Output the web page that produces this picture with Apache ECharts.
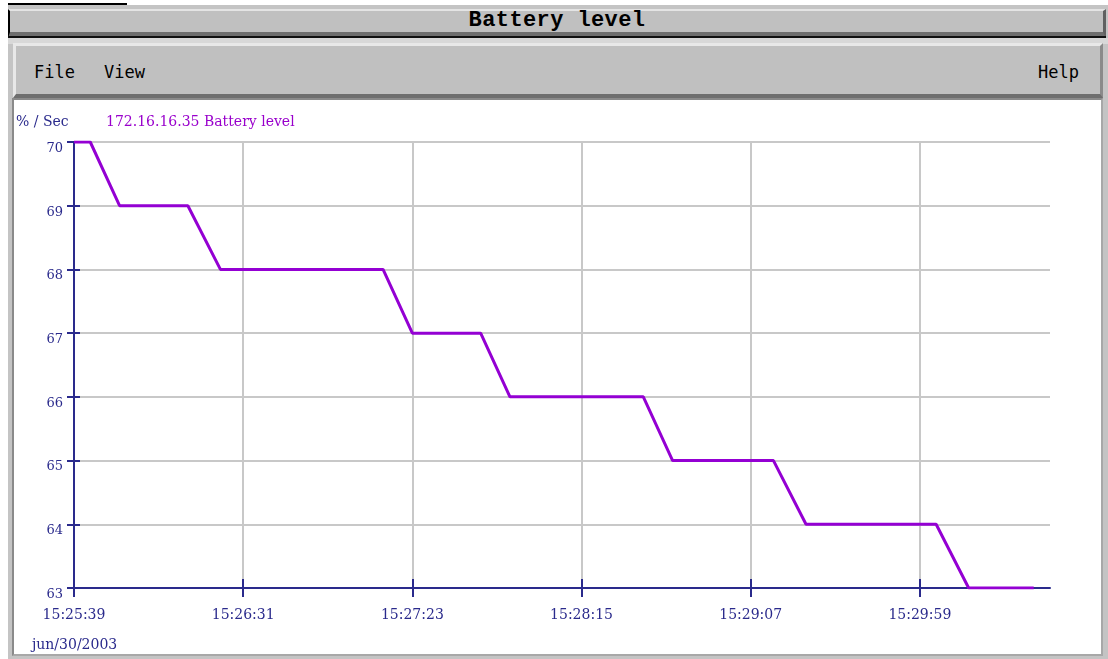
<!DOCTYPE html>
<html>
<head>
<meta charset="utf-8">
<title>Battery level</title>
<script src="https://cdn.jsdelivr.net/npm/echarts@6/dist/echarts.min.js"></script>
<style>
  html, body { margin: 0; padding: 0; background: #ffffff; width: 1108px; height: 659px; overflow: hidden; }
  .abs { position: absolute; box-sizing: border-box; }
  #topline { left: 8px; top: 3px; width: 119px; height: 2px; background: #000; }
  #frame { left: 8px; top: 5px; width: 1100px; height: 654px; background: #c4c4c4; }
  #titlebar { left: 8px; top: 9px; width: 1098px; height: 29px; background: #c0c0c0;
    border-top: 2px solid #e4e4e4; border-left: 2px solid #000; border-right: 3px solid #606060;
    border-bottom: 6px solid #6e6e6e; }
  #titleblack { left: 8px; top: 36px; width: 1098px; height: 2px; background: #111; }
  #titletext { left: 8px; top: 9px; width: 1098px; height: 22px; line-height: 24px; text-align: center;
    font-family: "Liberation Mono", monospace; font-weight: bold; font-size: 22px; letter-spacing: 0.4px; color: #000; }
  #gap { left: 8px; top: 38px; width: 1100px; height: 6px; background: #d8d8d8; }
  #menubar { left: 13px; top: 43px; width: 1090px; height: 55px; background: #c0c0c0;
    border-top: 3px solid #e8e8e8; border-left: 3px solid #e8e8e8; border-right: 3px solid #8a8a8a;
    border-bottom: 4px solid #6e6e6e; }
  .menu { top: 61px; font-family: "DejaVu Sans Mono", monospace; font-size: 17px; color: #000; line-height: 22px; }
  #panel { left: 12px; top: 98px; width: 1091px; height: 558px; background: #ffffff;
    border-top: 2px solid #8a8a8a; border-left: 2px solid #8a8a8a;
    border-right: 2px solid #a8a8a8; border-bottom: 2px solid #a8a8a8; }
  #chart { left: 0; top: 0; width: 1108px; height: 659px; }
</style>
</head>
<body>
<div class="abs" id="frame"></div>
<div class="abs" id="topline"></div>
<div class="abs" id="titlebar"></div>
<div class="abs" id="titleblack"></div>
<div class="abs" id="titletext">Battery level</div>
<div class="abs" id="gap"></div>
<div class="abs" id="menubar"></div>
<div class="abs menu" style="left:34px">File</div>
<div class="abs menu" style="left:104px">View</div>
<div class="abs menu" style="left:1038px">Help</div>
<div class="abs" id="panel"></div>
<div class="abs" id="chart"></div>

<script>
// sample times and battery level (%)
const sampleTimes = ['15:25:39', '15:25:44', '15:25:53', '15:26:14', '15:26:24', '15:27:14', '15:27:23', '15:27:44',
  '15:27:53', '15:28:34', '15:28:43', '15:29:14', '15:29:24', '15:30:04', '15:30:14', '15:30:34']
const batteryLevel = [70, 70, 69, 69, 68, 68, 67, 67, 66, 66, 65, 65, 64, 64, 63, 63]

// axis ticks (seconds after start)
const startTime = '15:25:39'
const xTickSeconds = [0, 52, 104, 156, 208, 260]
const spanSeconds = 300
const dateLabel = 'jun/30/2003'
const seriesName = '172.16.16.35 Battery level'
const unitName = '% / Sec'

const navy = '#2a2a8c'
const purple = '#9400d3'
const serif = 'DejaVu Serif'

const toSec = (s) => {
  const p = s.split(':').map(Number)
  return p[0] * 3600 + p[1] * 60 + p[2]
}
const pad = (n) => String(n).padStart(2, '0')
const toClock = (sec) => {
  const h = Math.floor(sec / 3600)
  const m = Math.floor((sec % 3600) / 60)
  return pad(h) + ':' + pad(m) + ':' + pad(sec % 60)
}
const t0 = toSec(startTime)
const points = sampleTimes.map((t, i) => [toSec(t) - t0, batteryLevel[i]])

const chart = echarts.init(document.getElementById('chart'))

const option = {
  backgroundColor: 'transparent',
  animation: false,
  title: {
    text: seriesName,
    left: 106,
    top: 115,
    padding: 0,
    textStyle: { color: '#9900cc', fontFamily: serif, fontSize: 14, fontWeight: 'normal' }
  },
  graphic: [
    { type: 'text', left: 16, top: 115, style: { text: unitName, fill: navy, font: '14px "DejaVu Serif"' } },
    { type: 'text', left: 32, top: 638, style: { text: dateLabel, fill: navy, font: '14px "DejaVu Serif"' } }
  ],
  grid: { left: 74, right: 58, top: 142, bottom: 71 },
  xAxis: [
    {
      type: 'value',
      position: 'bottom',
      min: 0,
      max: spanSeconds,
      interval: 52,
      axisLine: { lineStyle: { color: navy, width: 2 } },
      axisTick: { length: 9, customValues: xTickSeconds, lineStyle: { color: navy, width: 2 } },
      axisLabel: {
        customValues: xTickSeconds,
        margin: 20,
        color: navy,
        fontFamily: serif,
        fontSize: 14,
        formatter: (v) => toClock(t0 + v)
      },
      splitLine: { show: true, lineStyle: { color: '#c8c8c8', width: 2 } }
    },
    {
      // same axis again, only for the half of each tick above the line
      type: 'value',
      position: 'bottom',
      offset: 0,
      min: 0,
      max: spanSeconds,
      interval: 52,
      axisLine: { show: false },
      axisTick: { inside: true, length: 9, customValues: xTickSeconds, lineStyle: { color: navy, width: 2 } },
      axisLabel: { show: false },
      splitLine: { show: false }
    }
  ],
  yAxis: [
    {
      type: 'value',
      position: 'left',
      min: 63,
      max: 70,
      interval: 1,
      axisLine: { show: true, lineStyle: { color: navy, width: 2 } },
      axisTick: { show: true, length: 7, lineStyle: { color: navy, width: 2 } },
      axisLabel: { margin: 11, color: navy, fontFamily: serif, fontSize: 13, verticalAlign: 'top', padding: [0, 0, 0, 0] },
      splitLine: { show: true, lineStyle: { color: '#c8c8c8', width: 2 } }
    },
    {
      type: 'value',
      position: 'left',
      offset: 0,
      min: 63,
      max: 70,
      interval: 1,
      axisLine: { show: false },
      axisTick: { show: true, inside: true, length: 6, lineStyle: { color: navy, width: 2 } },
      axisLabel: { show: false },
      splitLine: { show: false }
    }
  ],
  series: [
    {
      name: seriesName,
      type: 'line',
      data: points,
      xAxisIndex: 0,
      yAxisIndex: 0,
      symbol: 'none',
      lineStyle: { color: purple, width: 3 },
      z: 5
    }
  ]
}

chart.setOption(option)
</script>
</body>
</html>
